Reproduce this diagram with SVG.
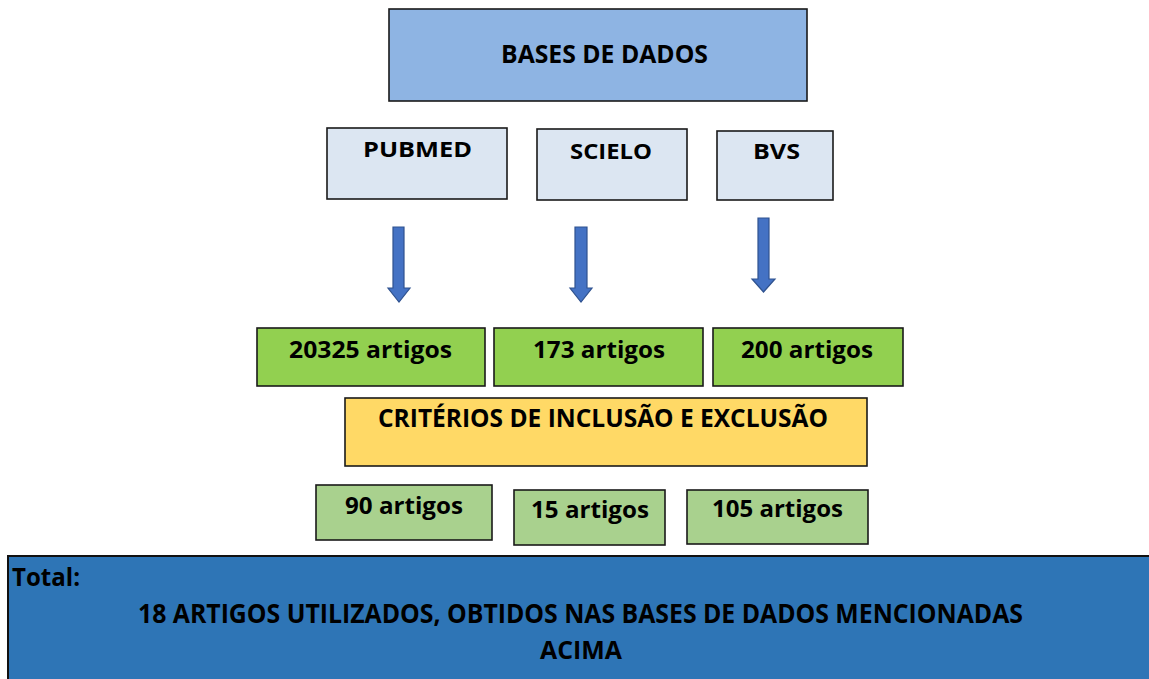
<svg xmlns="http://www.w3.org/2000/svg" width="1149" height="679" viewBox="0 0 1149 679">
<style>
.box{stroke:#1a1a1a;stroke-width:1.6}
.t{font-family:"Open Sans",Lato,"Liberation Sans",sans-serif;font-weight:700;fill:#000}
.arrow{fill:#4472C4;stroke:#2F528F;stroke-width:1.2}
</style>
<rect width="1149" height="679" fill="#ffffff"/>
<g id="bases">
<rect class="box" x="389" y="9" width="418" height="92" fill="#8EB4E3"/>
<text class="t" x="501" y="63" font-size="25" textLength="207" lengthAdjust="spacingAndGlyphs">BASES DE DADOS</text>
</g>
<g id="pubmed">
<rect class="box" x="327" y="128" width="180" height="71" fill="#DCE6F2"/>
<text class="t" x="363" y="157" font-size="22" textLength="109" lengthAdjust="spacingAndGlyphs">PUBMED</text>
</g>
<g id="scielo">
<rect class="box" x="537" y="129" width="150" height="71" fill="#DCE6F2"/>
<text class="t" x="570" y="159" font-size="22" textLength="82" lengthAdjust="spacingAndGlyphs">SCIELO</text>
</g>
<g id="bvs">
<rect class="box" x="717" y="131" width="116" height="69" fill="#DCE6F2"/>
<text class="t" x="753" y="159" font-size="22" textLength="47" lengthAdjust="spacingAndGlyphs">BVS</text>
</g>
<g id="connectors">
<path class="arrow" d="M393,227 H404 V288 H410 L399,302 L388,288 H393 Z"/>
<path class="arrow" d="M575,227 H587 V288 H592 L581,302 L570,288 H575 Z"/>
<path class="arrow" d="M758,218 H769 V279 H775 L763.5,292 L752,279 H758 Z"/>
</g>
<g id="pubmed-count">
<rect class="box" x="257" y="328" width="228" height="58" fill="#92D050"/>
<text class="t" x="289" y="358" font-size="24" textLength="163" lengthAdjust="spacingAndGlyphs">20325 artigos</text>
</g>
<g id="scielo-count">
<rect class="box" x="494" y="328" width="209" height="58" fill="#92D050"/>
<text class="t" x="533" y="358" font-size="24" textLength="132" lengthAdjust="spacingAndGlyphs">173 artigos</text>
</g>
<g id="bvs-count">
<rect class="box" x="713" y="328" width="190" height="58" fill="#92D050"/>
<text class="t" x="741" y="358" font-size="24" textLength="132" lengthAdjust="spacingAndGlyphs">200 artigos</text>
</g>
<g id="criterios">
<rect class="box" x="345" y="398" width="522" height="68" fill="#FFD966"/>
<text class="t" x="378" y="427" font-size="25" textLength="450" lengthAdjust="spacingAndGlyphs">CRITÉRIOS DE INCLUSÃO E EXCLUSÃO</text>
</g>
<g id="pubmed-final">
<rect class="box" x="316" y="485" width="176" height="55" fill="#A9D18E"/>
<text class="t" x="345" y="514" font-size="23" textLength="118" lengthAdjust="spacingAndGlyphs">90 artigos</text>
</g>
<g id="scielo-final">
<rect class="box" x="514" y="490" width="151" height="55" fill="#A9D18E"/>
<text class="t" x="531" y="518" font-size="23" textLength="118" lengthAdjust="spacingAndGlyphs">15 artigos</text>
</g>
<g id="bvs-final">
<rect class="box" x="687" y="490" width="181" height="54" fill="#A9D18E"/>
<text class="t" x="712" y="517" font-size="23" textLength="131" lengthAdjust="spacingAndGlyphs">105 artigos</text>
</g>
<g id="total">
<rect x="8" y="556" width="1150" height="130" fill="#2E75B6" stroke="#111" stroke-width="2"/>
<text class="t" x="12" y="586" font-size="25" textLength="68" lengthAdjust="spacingAndGlyphs">Total:</text>
<text class="t" x="138" y="623" font-size="26" textLength="885" lengthAdjust="spacingAndGlyphs">18 ARTIGOS UTILIZADOS, OBTIDOS NAS BASES DE DADOS MENCIONADAS</text>
<text class="t" x="540" y="659" font-size="25" textLength="82" lengthAdjust="spacingAndGlyphs">ACIMA</text>
</g>
</svg>
